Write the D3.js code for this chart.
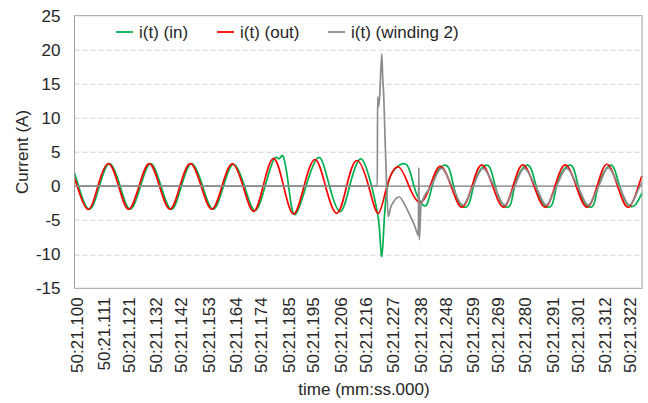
<!DOCTYPE html>
<html>
<head>
<meta charset="utf-8">
<script src="https://cdn.jsdelivr.net/npm/d3@7"></script>
<style>
  html, body { margin: 0; padding: 0; background: #fff; }
  svg { display: block; font-family: "Liberation Sans", Arial, sans-serif; }
</style>
</head>
<body>
<div id="chart"></div>
<script>
// tick labels of the time axis (mm:ss.000)
const timeLabels = ['50:21.100', '50:21.111', '50:21.121', '50:21.132', '50:21.142', '50:21.153',
  '50:21.164', '50:21.174', '50:21.185', '50:21.195', '50:21.206', '50:21.216', '50:21.227',
  '50:21.238', '50:21.248', '50:21.259', '50:21.269', '50:21.280', '50:21.291', '50:21.301',
  '50:21.312', '50:21.322'];
const currentTicks = [-15, -10, -5, 0, 5, 10, 15, 20, 25];

// i(t) (out) : time in ms after 50:21.000, current in A
const tOut = [99.1, 100.2, 104.4, 108.5, 112.7, 116.8, 120.8, 125.0, 129.1, 133.2, 137.4, 141.4,
  145.6, 149.9, 154.2, 158.3, 162.4, 166.7, 170.9, 174.8, 178.9, 183.0, 187.0, 191.2, 195.6,
  199.8, 204.3, 208.3, 212.4, 217.1, 221.0, 224.5, 229.1, 233.3, 237.8, 241.8, 245.8, 250.2,
  254.5, 258.6, 262.5, 266.9, 271.2, 275.1, 279.0, 283.5, 287.9, 291.9, 296.0, 300.4, 304.7,
  308.8, 312.7, 317.0, 321.4, 325.4, 326.8];
const iOut = [1.1, 0, -3.4, 0, 3.3, 0, -3.4, 0, 3.3, 0, -3.4, 0,
  3.3, 0, -3.4, 0, 3.25, 0, -3.7, 0, 4.05, 0, -4.1, 0, 3.9,
  0, -4.0, 0, 3.75, 0, -4.0, 0, 2.8, 0, -2.4, 0, 2.9, 0,
  -3.1, 0, 3.1, 0, -3.1, 0, 3.1, 0, -3.1, 0, 3.1, 0, -3.1,
  0, 3.2, 0, -3.1, 0, 1.5];

// i(t) (in)
const tIn = [99.1, 100.7, 104.9, 109.1, 113.2, 117.4, 121.4, 125.6, 129.6, 133.8, 138.0, 142.0,
  146.1, 150.5, 154.7, 158.9, 162.9, 167.3, 171.5, 175.6, 179.2, 181.2, 182.9, 185.0, 187.6,
  192.0, 195.6, 198.3, 201.4, 205.7, 209.5, 212.5, 215.1, 218.3, 220.5, 221.5, 222.4, 223.3,
  224.7, 227.7, 232.4, 235.3, 238.2, 240.6, 242.6, 245.4, 249.0, 251.2, 253.8, 257.1, 259.2,
  262.2, 265.6, 267.9, 270.7, 273.9, 275.7, 278.7, 281.9, 284.3, 287.1, 290.6, 292.5, 295.6,
  299.0, 301.2, 304.0, 307.3, 309.2, 312.4, 315.3, 317.8, 320.8, 324.0, 326.8];
const iIn = [1.9, 0, -3.4, 0, 3.3, 0, -3.4, 0, 3.3, 0, -3.4, 0,
  3.3, 0, -3.4, 0, 3.2, 0, -3.6, 0, 4.0, 4.0, 4.3, 0, -4.2,
  0, 3.6, 3.8, 0, -3.75, 0, 3.4, 3.6, 0, -3.6, -6.5, -10.3, -5.5,
  0, 2.5, 3.1, 0, -2.5, -2.6, 0, 2.5, 2.8, 0, -2.6, -2.8, 0,
  2.5, 2.8, 0, -2.6, -2.8, 0, 2.5, 2.8, 0, -2.6, -2.8, 0, 2.5,
  2.8, 0, -2.6, -2.8, 0, 2.5, 2.8, 0, -2.6, -2.8, -1.0];

// i(t) (winding 2)
const tWinding = [99.1, 220.6, 220.7, 221.1, 221.5, 222.4, 222.75, 223.15, 223.7, 224.2, 225.0,
  225.9, 227.3, 229.45, 231.7, 233.7, 235.35, 236.4, 237.05, 237.25, 237.45, 238.15, 242.2,
  246.4, 250.6, 254.9, 259.0, 263.0, 267.45, 271.7, 275.7, 279.5, 284.1, 288.4, 292.5, 296.55,
  301.0, 305.2, 309.4, 313.2, 317.6, 321.8, 326.0, 326.8];
const iWinding = [0, 0, 13.1, 11.6, 13.0, 19.4, 16.0, 13.5, 7.0, 1.5, -4.5,
  -3.2, -2.2, -1.6, -2.8, -4.3, -5.6, -6.7, -7.3, 2.7, -7.9, -2.7, 0,
  2.6, 0, -2.8, 0, 2.6, 0, -2.8, 0, 2.6, 0, -2.8, 0, 2.6,
  0, -2.8, 0, 2.7, 0, -2.8, 0, 0.5];

const seriesNames = ['i(t) (in)', 'i(t) (out)', 'i(t) (winding 2)'];
const seriesColors = ['#00b050', '#ff0000', '#8c8c8c'];

const width = 648, height = 403;
const margin = { top: 15.7, right: 6, bottom: 114.7, left: 74.5 };
const innerW = width - margin.left - margin.right;
const innerH = height - margin.top - margin.bottom;
const fontSize = 17;

const svg = d3.select('#chart').append('svg')
  .attr('width', width)
  .attr('height', height);

const g = svg.append('g')
  .attr('transform', `translate(${margin.left},${margin.top})`);

const toMs = s => Math.round((+s.split(':')[1] - 21) * 1000);

const x = d3.scaleLinear().domain([99.1, 326.8]).range([0, innerW]);
const y = d3.scaleLinear().domain([-15, 25]).range([innerH, 0]);

// dashed gridlines
g.append('g')
  .selectAll('line')
  .data(currentTicks.filter(v => v !== 0 && v !== -15 && v !== 25))
  .join('line')
  .attr('x1', 0).attr('x2', innerW)
  .attr('y1', d => Math.round(y(d)) + 0.5).attr('y2', d => Math.round(y(d)) + 0.5)
  .attr('stroke', '#d0d0d0')
  .attr('stroke-dasharray', '5,3');

// y tick labels
g.append('g')
  .selectAll('text')
  .data(currentTicks)
  .join('text')
  .attr('x', -14)
  .attr('y', d => y(d))
  .attr('dy', '0.35em')
  .attr('text-anchor', 'end')
  .attr('font-size', fontSize)
  .attr('fill', '#262626')
  .text(d => d);

// x tick labels, rotated
g.append('g')
  .selectAll('text')
  .data(timeLabels)
  .join('text')
  .attr('transform', d => `translate(${x(toMs(d))},${innerH + 9}) rotate(-90)`)
  .attr('dy', '0.35em')
  .attr('text-anchor', 'end')
  .attr('font-size', fontSize)
  .attr('fill', '#262626')
  .text(d => d);

// zero axis line
g.append('line')
  .attr('x1', 0).attr('x2', innerW)
  .attr('y1', y(0)).attr('y2', y(0))
  .attr('stroke', '#7a7a7a')
  .attr('stroke-width', 1.3);

const smooth = d3.line()
  .x(d => x(d[0]))
  .y(d => y(d[1]))
  .curve(d3.curveNatural);
const jagged = d3.line()
  .x(d => x(d[0]))
  .y(d => y(d[1]))
  .curve(d3.curveMonotoneX);

const series = [
  { name: seriesNames[0], color: seriesColors[0], pts: d3.zip(tIn, iIn), line: smooth },
  { name: seriesNames[1], color: seriesColors[1], pts: d3.zip(tOut, iOut), line: smooth },
  { name: seriesNames[2], color: seriesColors[2], pts: d3.zip(tWinding, iWinding), line: jagged }
];

g.selectAll('path.series')
  .data(series)
  .join('path')
  .attr('class', 'series')
  .attr('d', d => d.line(d.pts))
  .attr('fill', 'none')
  .attr('stroke', d => d.color)
  .attr('stroke-width', 1.7)
  .attr('stroke-linejoin', 'round');

// plot border
g.append('rect')
  .attr('x', 0).attr('y', 0)
  .attr('width', innerW).attr('height', innerH)
  .attr('fill', 'none')
  .attr('stroke', '#a0a0a0');

// legend
const legendX = [116, 217, 328];
const legend = g.append('g')
  .selectAll('g')
  .data(series)
  .join('g')
  .attr('transform', (d, i) => `translate(${legendX[i] - margin.left},${32 - margin.top})`);
legend.append('line')
  .attr('x1', 0).attr('x2', 17)
  .attr('stroke', d => d.color)
  .attr('stroke-width', 1.8);
legend.append('text')
  .attr('x', 23)
  .attr('dy', '0.35em')
  .attr('font-size', fontSize)
  .attr('fill', '#262626')
  .text(d => d.name);

// axis titles
svg.append('text')
  .attr('transform', `translate(22,${margin.top + innerH / 2}) rotate(-90)`)
  .attr('text-anchor', 'middle')
  .attr('dy', '0.35em')
  .attr('font-size', fontSize)
  .attr('fill', '#262626')
  .text('Current (A)');

svg.append('text')
  .attr('x', 364)
  .attr('y', 395)
  .attr('text-anchor', 'middle')
  .attr('font-size', fontSize)
  .attr('fill', '#262626')
  .text('time (mm:ss.000)');
</script>
</body>
</html>
